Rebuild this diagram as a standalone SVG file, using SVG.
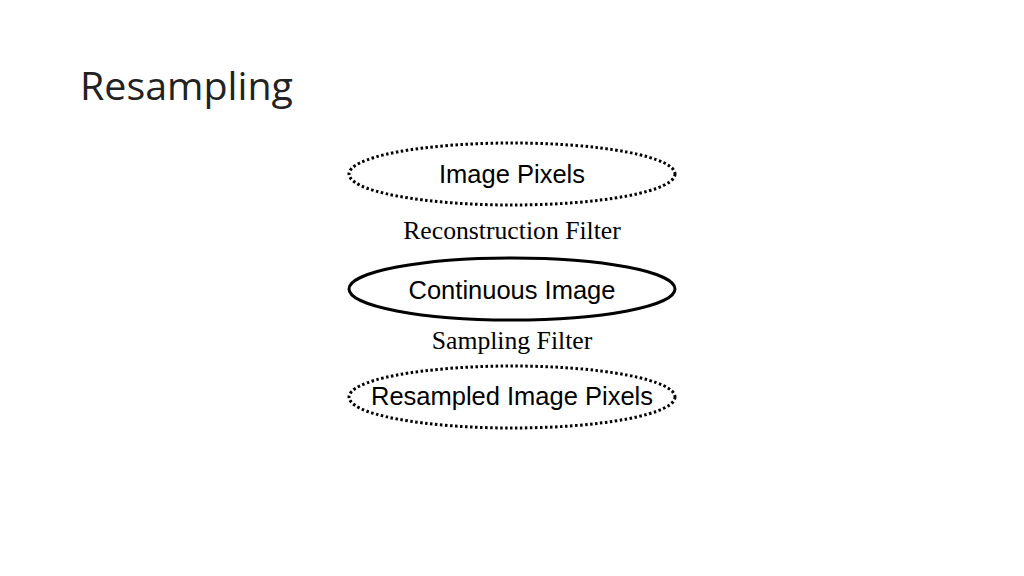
<svg xmlns="http://www.w3.org/2000/svg" width="1024" height="576" viewBox="0 0 1024 576">
<style>
.node ellipse{fill:none;stroke:#000;stroke-width:3}
.dot{stroke-dasharray:2.5 2.5}
.lbl{font-family:"Liberation Sans",Arial,sans-serif;font-size:25.5px;text-anchor:middle;fill:#000}
.edge{font-family:"Liberation Serif","Times New Roman",serif;font-size:25.7px;text-anchor:middle;fill:#000}
</style>
<rect width="1024" height="576" fill="#fff"/>
<text x="80" y="100" font-family="'Open Sans','Noto Sans',sans-serif" font-weight="400" font-size="38" textLength="213" lengthAdjust="spacingAndGlyphs" fill="#222">Resampling</text>
<g id="image-pixels" class="node">
<ellipse class="dot" cx="512" cy="174" rx="163" ry="31"/>
<text class="lbl" x="512" y="183">Image Pixels</text>
</g>
<g id="continuous-image" class="node">
<ellipse cx="512" cy="289" rx="163" ry="31"/>
<text class="lbl" x="512" y="299">Continuous Image</text>
</g>
<g id="resampled-image-pixels" class="node">
<ellipse class="dot" cx="512" cy="397" rx="163" ry="31"/>
<text class="lbl" x="512" y="405">Resampled Image Pixels</text>
</g>
<g id="connectors">
<text class="edge" x="512" y="239">Reconstruction Filter</text>
<text class="edge" x="512" y="349">Sampling Filter</text>
</g>
</svg>
